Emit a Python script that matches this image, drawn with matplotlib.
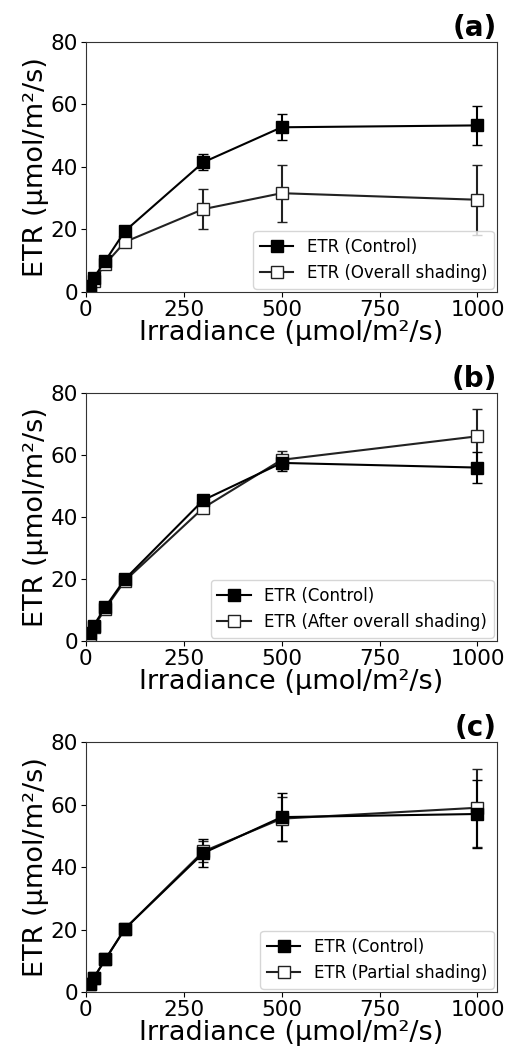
import numpy as np
import matplotlib
matplotlib.use('Agg')
import matplotlib.pyplot as plt

irradiance = [10, 20, 50, 100, 300, 500, 1000]

# panel (a)
etr_ctrl_a = [2.0, 4.5, 10.0, 19.5, 41.5, 52.7, 53.3]
err_ctrl_a = [0.5, 0.8, 1.0, 1.0, 2.5, 4.2, 6.3]
etr_shade_a = [1.5, 3.5, 9.0, 16.0, 26.5, 31.6, 29.5]
err_shade_a = [0.5, 0.7, 1.0, 1.5, 6.5, 9.1, 11.2]

# panel (b)
etr_ctrl_b = [2.5, 5.0, 11.0, 20.0, 45.5, 57.5, 56.0]
err_ctrl_b = [0.5, 0.8, 1.0, 1.0, 1.5, 2.5, 5.0]
etr_shade_b = [2.0, 4.5, 10.5, 19.5, 43.0, 58.5, 66.1]
err_shade_b = [0.5, 0.8, 1.0, 1.0, 1.5, 3.0, 8.8]

# panel (c)
etr_ctrl_c = [2.5, 4.5, 10.5, 20.3, 44.5, 56.0, 57.0]
err_ctrl_c = [0.5, 0.7, 1.0, 1.0, 4.5, 7.6, 11.0]
etr_shade_c = [2.5, 4.5, 10.5, 20.3, 45.0, 55.5, 59.0]
err_shade_c = [0.5, 0.7, 1.0, 1.0, 3.5, 7.0, 12.5]

panels = [
    ('(a)', etr_ctrl_a, err_ctrl_a, etr_shade_a, err_shade_a, 'ETR (Overall shading)'),
    ('(b)', etr_ctrl_b, err_ctrl_b, etr_shade_b, err_shade_b, 'ETR (After overall shading)'),
    ('(c)', etr_ctrl_c, err_ctrl_c, etr_shade_c, err_shade_c, 'ETR (Partial shading)'),
]

fig = plt.figure(figsize=(5.14, 10.5), dpi=100)
positions = [[0.167, 0.722, 0.8, 0.238],
             [0.167, 0.3895, 0.8, 0.236],
             [0.167, 0.0552, 0.8, 0.238]]

for pos, (tag, yc, ec, ys, es, lab) in zip(positions, panels):
    ax = fig.add_axes(pos)
    # shading first so the control series sits on top
    sh = ax.errorbar(irradiance, ys, yerr=es, color='#222222', marker='s', markersize=8,
                     markerfacecolor='white', markeredgecolor='#222222', capsize=3.5,
                     elinewidth=1.5, linewidth=1.5)
    ct = ax.errorbar(irradiance, yc, yerr=ec, color='k', marker='s', markersize=8,
                     capsize=3.5, elinewidth=1.5, linewidth=1.5)
    ax.set_xlim(0, 1050)
    ax.set_ylim(0, 80)
    ax.set_xticks([0, 250, 500, 750, 1000])
    ax.set_yticks([0, 20, 40, 60, 80])
    ax.tick_params(labelsize=15.5, pad=2)
    ax.set_xlabel('Irradiance (μmol/m²/s)', fontsize=19.5, labelpad=0)
    ax.set_ylabel('ETR (μmol/m²/s)', fontsize=19.5, labelpad=1)
    ax.set_title(tag, loc='right', fontsize=20, fontweight='bold', pad=3)
    for s in ax.spines.values():
        s.set_color('#333333')
    ax.legend([ct[0], sh[0]], ['ETR (Control)', lab], loc='lower right',
              fontsize=12, borderaxespad=0.2)

fig.savefig('out.png', dpi=100)
